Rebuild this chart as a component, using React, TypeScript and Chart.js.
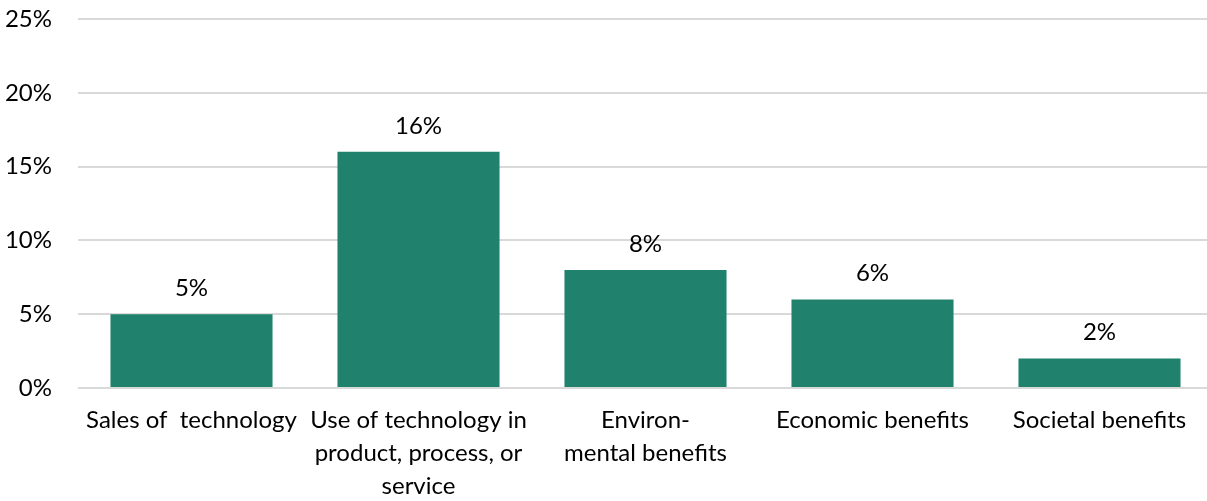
import React, { useEffect, useRef } from "react";
import { Chart, registerables } from "chart.js";

Chart.register(...registerables);

const categories: (string | string[])[] = [
  "Sales of  technology",
  ["Use of technology in", "product, process, or", "service"],
  ["Environ-", "mental benefits"],
  "Economic benefits",
  "Societal benefits",
];
const values = [5, 16, 8, 6, 2];
const yTicks = [0, 5, 10, 15, 20, 25];

const FONT = "Lato, 'Open Sans', sans-serif";
const FS = 24;

const labelPlugin = {
  id: "barLabels",
  afterDatasetsDraw(chart: any) {
    const ctx = chart.ctx;
    const meta = chart.getDatasetMeta(0);
    ctx.save();
    ctx.font = `${FS}px ${FONT}`;
    ctx.fillStyle = "#000";
    ctx.textAlign = "center";
    ctx.textBaseline = "alphabetic";
    meta.data.forEach((bar: any, i: number) => {
      ctx.fillText(values[i] + "%", bar.x, bar.y - 18);
    });
    ctx.restore();
  },
};

export default function App() {
  const ref = useRef<HTMLCanvasElement>(null);
  useEffect(() => {
    document.body.style.margin = "0";
    const chart = new Chart(ref.current!, {
      type: "bar",
      data: {
        labels: categories,
        datasets: [
          {
            data: values,
            backgroundColor: "#20826C",
            barPercentage: 0.714,
            categoryPercentage: 1,
          },
        ],
      },
      options: {
        animation: false,
        responsive: false,
        maintainAspectRatio: false,
        layout: { padding: 0 },
        plugins: { legend: { display: false }, tooltip: { enabled: false } },
        scales: {
          x: {
            grid: { display: false },
            border: { display: false },
            ticks: {
              color: "#000",
              font: { family: FONT, size: FS, lineHeight: 1.375 },
              padding: 8,
              maxRotation: 0,
              autoSkip: false,
            },
            afterFit(axis: any) {
              axis.height = 113;
              axis.paddingLeft = 0;
              axis.paddingRight = 0;
            },
          },
          y: {
            min: 0,
            max: 25,
            afterBuildTicks(axis: any) {
              axis.ticks = yTicks.map((v) => ({ value: v }));
            },
            grid: { color: "#D9D9D9", lineWidth: 2, drawTicks: false },
            border: { display: false },
            ticks: {
              color: "#000",
              font: { family: FONT, size: FS },
              padding: 26,
              callback: (v: any) => v + "%",
            },
            afterFit(axis: any) {
              axis.width = 78;
              axis.paddingTop = 19;
              axis.paddingBottom = 0;
            },
          },
        },
      },
      plugins: [labelPlugin],
    });
    return () => chart.destroy();
  }, []);
  return (
    <div style={{ position: "fixed", left: 0, top: 0, width: 1207, height: 501, overflow: "hidden" }}>
      <canvas ref={ref} width={1213} height={501} />
    </div>
  );
}
